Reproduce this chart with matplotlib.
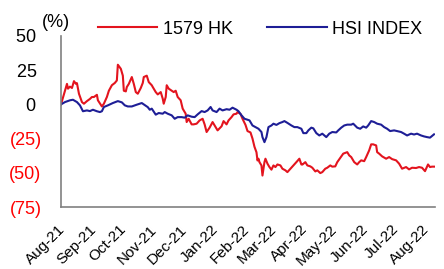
import matplotlib
matplotlib.use("Agg")
import matplotlib.pyplot as plt
import matplotlib.dates as mdates
import matplotlib.transforms as mtransforms
import pandas as pd

plt.rcParams['font.family'] = ['Liberation Sans', 'DejaVu Sans']

start_date = "2021-08-01"

# day offsets from start_date and cumulative return (%) for 1579 HK
red_days = [-1, 5, 6, 8, 10, 12, 14, 15, 17, 20, 22, 25, 28, 30, 32, 35, 36, 40, 42, 45,
            47, 50, 53, 55, 56, 59, 61, 62, 64, 65, 67, 70, 72, 74, 76, 79, 81, 82, 85, 87,
            90, 91, 94, 96, 99, 101, 102, 104, 105, 107, 110, 112, 114, 116, 119, 121, 124, 125, 127, 130,
            132, 135, 138, 141, 143, 145, 148, 151, 153, 156, 160, 162, 165, 167, 170, 172, 175, 176, 179, 181,
            184, 186, 189, 191, 193, 195, 196, 197, 198, 200, 201, 203, 204, 206, 208, 210, 212, 214, 216, 219,
            221, 224, 226, 230, 232, 235, 238, 240, 241, 244, 246, 249, 251, 254, 256, 259, 261, 264, 266, 269,
            271, 274, 276, 280, 282, 286, 288, 290, 293, 296, 298, 300, 303, 305, 308, 310, 312, 315, 316, 318,
            321, 325, 328, 331, 335, 338, 341, 345, 348, 351, 355, 358, 361, 364, 367, 369, 371, 373]
red_vals = [0, 15, 11.5, 13, 12, 17, 15, 15.5, 7.8, 1.7, 0.5, 2.4, 4, 5.4, 5.4, 7, 3, -1.5, 0.5, 5.4,
            10, 14, 15.7, 17.5, 29, 26, 21, 10, 9.5, 12.7, 15, 20, 15, 9, 7.8, 12, 15.7, 20, 21, 16.3,
            14, 12.7, 9, 7.3, 9, 4.2, 0.5, 5.4, 14, 11.5, 10, 9, 10, 5.4, 3, -3.1, -6.8, -12.9, -10.5, -14.6,
            -14.6, -14.1, -11.7, -10.5, -14.6, -20.2, -17, -12.9, -15.4, -19, -16, -12.2, -14.6, -11.7, -9.3, -7.3, -6.8, -5.6, -7, -10.5,
            -15, -19.5, -20.5, -25, -31, -35, -41, -39.7, -42.2, -44.6, -52, -42.2, -39.7, -43.3, -45.8, -47.7, -44.6, -45.8, -43.9, -44.6,
            -47, -48.2, -49.5, -46.3, -44.6, -42.2, -39.7, -43.9, -44, -42.2, -44.6, -45.3, -46.3, -49, -48.2, -50.2, -49.5, -47, -46.3, -44.6,
            -45.5, -45.3, -42.2, -38, -36, -34.9, -37.3, -38.5, -42.2, -43.9, -42.2, -40.9, -41.5, -38.5, -33.6, -29.2, -29.2, -30, -34.9, -36,
            -38, -39.7, -38.5, -40, -40.9, -43.3, -47, -45.8, -47.5, -46.3, -46.5, -45.8, -46.3, -48.8, -43.9, -45.8, -45.5, -45.5]

# day offsets from start_date and cumulative return (%) for HSI INDEX
blue_days = [-1, 3, 8, 11, 15, 18, 21, 25, 28, 31, 35, 38, 40, 42, 46, 51, 56, 60, 63, 66,
             70, 75, 80, 83, 86, 88, 90, 91, 94, 97, 101, 103, 106, 110, 113, 116, 120, 123, 126, 130,
             133, 136, 140, 143, 146, 149, 151, 155, 158, 161, 165, 168, 171, 175, 177, 180, 183, 186, 188, 191,
             197, 200, 201, 203, 205, 207, 210, 212, 215, 218, 221, 223, 226, 230, 233, 236, 240, 242, 245, 247,
             250, 252, 255, 258, 261, 265, 268, 271, 275, 277, 280, 283, 286, 290, 292, 296, 299, 302, 305, 307,
             310, 313, 316, 320, 323, 326, 329, 333, 336, 340, 343, 346, 350, 353, 356, 360, 363, 366, 369, 373]
blue_vals = [0, 1.7, 3, 3.4, 1.7, -0.7, -5, -4.4, -4.9, -3.9, -5, -5.6, -5, -1.9, -0.7, 1, 2.4, 1.5, -0.7, -1.5,
             -1.5, -0.2, 1, -0.5, -2, -3.9, -3.1, -4.2, -7.5, -6.3, -6.8, -5.6, -6.8, -8, -10.5, -9.3, -9.3, -9.7, -8, -9,
             -9.3, -7.3, -4.9, -5.6, -4.4, -1.9, -4.4, -5.6, -3.1, -4.4, -3.5, -3.9, -2.4, -3.9, -5, -8, -10.5, -11.2, -11.7, -15.4,
             -17.8, -20.2, -23.9, -27.6, -23.9, -16.6, -15.4, -14.1, -15, -13.7, -12.9, -12.2, -13.5, -15.4, -16.6, -16.6, -17.8, -21, -21, -19,
             -17, -17.5, -21, -22.7, -21.4, -23.9, -21.4, -20.2, -20.5, -19, -17, -15.4, -14.8, -14.8, -14.1, -17, -17.8, -16.1, -17, -15.4,
             -12.2, -12.9, -14.1, -14.8, -16.6, -17.8, -19.5, -19, -19.5, -20.2, -21.4, -22.7, -21.4, -22, -21.4, -22.7, -23.4, -23.9, -24.3, -21.9]

series_names = ["1579 HK", "HSI INDEX"]
y_ticks = [50, 25, 0, -25, -50, -75]
month_ticks = pd.date_range("2021-08-01", "2022-08-01", freq="MS")

t0 = pd.Timestamp(start_date)
red_dates = t0 + pd.to_timedelta(red_days, unit="D")
blue_dates = t0 + pd.to_timedelta(blue_days, unit="D")

RED = "#E3141E"
BLUE = "#1E1E96"

fig = plt.figure(figsize=(4.44, 2.69), dpi=100)
ax = fig.add_axes([61 / 444, 1 - 207 / 269, (435 - 61) / 444, (207 - 36) / 269])

l1, = ax.plot(red_dates, red_vals, color=RED, lw=1.5, label=series_names[0])
l2, = ax.plot(blue_dates, blue_vals, color=BLUE, lw=1.5, label=series_names[1])

ax.set_ylim(-75, 50)
ax.set_xlim(red_dates[0], red_dates[-1] + pd.Timedelta(days=1))
ax.set_yticks(y_ticks)
labels = []
for v in y_ticks:
    labels.append(f"({abs(v)})" if v < 0 else f"{v} ")
ax.set_yticklabels(labels)
for lab, v in zip(ax.get_yticklabels(), y_ticks):
    lab.set_color("#FF0000" if v < 0 else "black")

ax.set_xticks(month_ticks)
ax.xaxis.set_major_formatter(mdates.DateFormatter("%b-%y"))

ax.tick_params(axis="y", length=0, pad=14, labelsize=13)
ax.tick_params(axis="x", length=0, pad=11, labelsize=11)

shift = mtransforms.ScaledTranslation(-4 / 100, 0, fig.dpi_scale_trans)
for lab in ax.get_xticklabels():
    lab.set_rotation(45)
    lab.set_ha("right")
    lab.set_rotation_mode("anchor")
    lab.set_transform(lab.get_transform() + shift)

for s in ["top", "right"]:
    ax.spines[s].set_visible(False)
for s in ["left", "bottom"]:
    ax.spines[s].set_color("#808080")
    ax.spines[s].set_linewidth(1.2)

fig.text(42 / 444, 1 - 23 / 269, "(%)", fontsize=13, va="center", ha="left")

fig.legend(handles=[l1, l2], loc="center", bbox_to_anchor=(260 / 444, 1 - 29 / 269),
           ncol=2, frameon=False, fontsize=13, handlelength=3.3, handletextpad=0.3,
           columnspacing=1.9, borderaxespad=0, borderpad=0)

fig.savefig("out.png", dpi=100)
